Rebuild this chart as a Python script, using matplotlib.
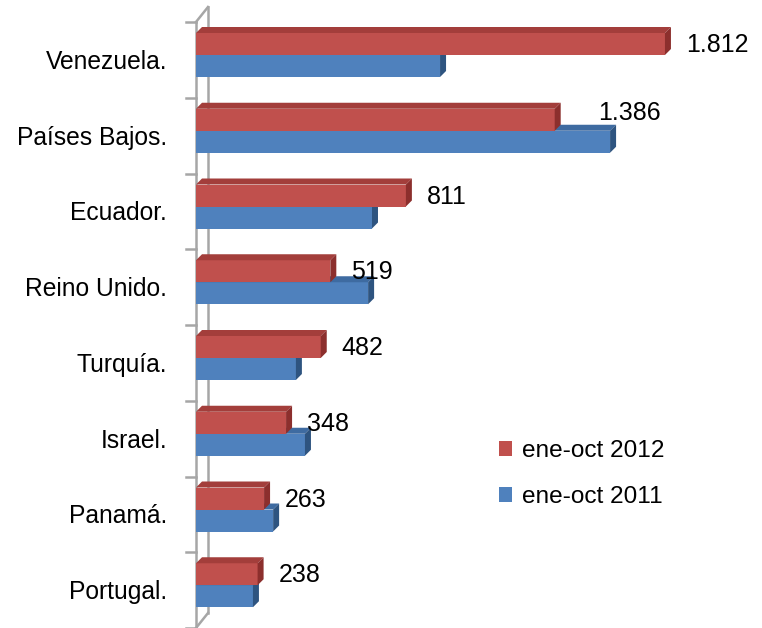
import matplotlib.pyplot as plt
from matplotlib.patches import Polygon

plt.rcParams['font.family'] = ['Liberation Sans', 'DejaVu Sans']

paises = ['Venezuela.', 'Países Bajos.', 'Ecuador.', 'Reino Unido.',
          'Turquía.', 'Israel.', 'Panamá.', 'Portugal.']
v2012 = [1812, 1386, 811, 519, 482, 348, 263, 238]
v2011 = [943, 1600, 680, 665, 386, 421, 298, 220]
etiquetas = ['1.812', '1.386', '811', '519', '482', '348', '263', '238']

W, H = 762, 628
fig = plt.figure(figsize=(W / 100, H / 100), dpi=100)
ax = fig.add_axes([196 / W, 0, (W - 196) / W, 1 - 22 / H])
ax.set_xlim(0, (W - 196) / 0.2588)
ax.set_ylim(8, 0)
ax.axis('off')

# pixel -> data units
px_x = ax.get_xlim()[1] / (W - 196)
px_y = 8 / (H - 22)
dx, dy = 6 * px_x, 6 * px_y

rojo = ('#C0504D', '#A33E3B', '#8C2F2D')
azul = ('#4F81BD', '#3E6BA1', '#2E5480')

# pared (3D wall)
gris = '#A6A6A6'
bx = 12 * px_x
ax.plot([0, 0], [0, 8], color=gris, lw=1.8, clip_on=False, zorder=1)
ax.plot([bx, bx], [-15 * px_y, 8 - 15 * px_y], color=gris, lw=1.8,
        clip_on=False, zorder=1)
ax.plot([0, bx], [0, -15 * px_y], color=gris, lw=1.8, clip_on=False, zorder=1)
ax.plot([0, bx], [8, 8 - 15 * px_y], color=gris, lw=1.8, clip_on=False, zorder=1)
for k in range(9):
    ax.plot([-10 * px_x, 0], [k, k], color=gris, lw=1.8, clip_on=False, zorder=1)


def barra(y0, y1, val, cols, z):
    # y0 top of front face, y1 bottom (data, inverted axis)
    ax.add_patch(Polygon([(0, y1), (val, y1), (val, y0), (0, y0)],
                         closed=True, fc=cols[0], ec='none', zorder=z))
    ax.add_patch(Polygon([(0, y0), (val, y0), (val + dx, y0 - dy), (dx, y0 - dy)],
                         closed=True, fc=cols[1], ec='none', zorder=z))
    ax.add_patch(Polygon([(val, y0), (val, y1), (val + dx, y1 - dy), (val + dx, y0 - dy)],
                         closed=True, fc=cols[2], ec='none', zorder=z))


hb = 22 * px_y
for i in range(len(paises)):
    top = i + 11 * px_y
    barra(top + hb, top + 2 * hb, v2011[i], azul, 2 + 2 * i)
    barra(top, top + hb, v2012[i], rojo, 3 + 2 * i)
    off_x, off_y = 21 * px_x, 1 * px_y
    if i == 1:
        off_x, off_y = 43 * px_x, -7 * px_y
    ax.text(v2012[i] + off_x, top + hb / 2 + off_y, etiquetas[i],
            fontsize=18, va='center', ha='left', zorder=30)
    ax.text(-29 * px_x, i + 0.5 + 2 * px_y, paises[i], fontsize=17.7,
            va='center', ha='right', clip_on=False)

h1 = plt.Rectangle((0, 0), 1, 1, fc=rojo[0], ec='none')
h2 = plt.Rectangle((0, 0), 1, 1, fc=azul[0], ec='none')
fig.legend([h1, h2], ['ene-oct 2012', 'ene-oct 2011'], loc='upper left',
           bbox_to_anchor=(477 / W, 1 - 418 / H), frameon=False, fontsize=17.6,
           handlelength=0.55, handleheight=0.55, handletextpad=0.4,
           labelspacing=1.0)

fig.savefig('out.png', dpi=100)
